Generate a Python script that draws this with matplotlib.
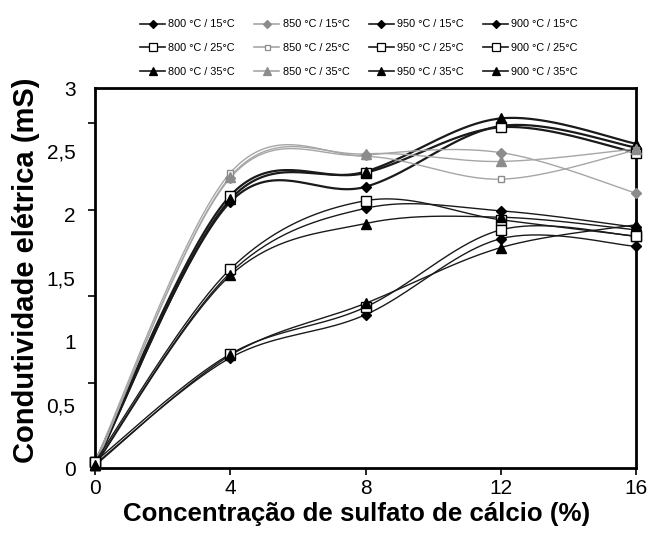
import matplotlib.pyplot as plt
import numpy as np
from matplotlib.lines import Line2D

plt.rcParams['font.family'] = ['Liberation Sans', 'DejaVu Sans']

# Data
conc = [0, 4, 8, 12, 16]
temps = ["800", "850", "950", "900"]
humid = ["15", "25", "35"]

values = {
    ("800", "15"): [0.03, 2.10, 2.22, 2.70, 2.53],
    ("800", "25"): [0.05, 2.15, 2.33, 2.69, 2.49],
    ("800", "35"): [0.02, 2.12, 2.34, 2.76, 2.56],
    ("850", "15"): [0.03, 2.29, 2.47, 2.49, 2.17],
    ("850", "25"): [0.05, 2.33, 2.46, 2.28, 2.51],
    ("850", "35"): [0.02, 2.30, 2.48, 2.42, 2.52],
    ("950", "15"): [0.03, 1.54, 2.05, 2.03, 1.90],
    ("950", "25"): [0.05, 1.57, 2.11, 1.96, 1.83],
    ("950", "35"): [0.02, 1.52, 1.93, 1.98, 1.88],
    ("900", "15"): [0.03, 0.87, 1.21, 1.81, 1.75],
    ("900", "25"): [0.05, 0.90, 1.27, 1.88, 1.83],
    ("900", "35"): [0.02, 0.89, 1.30, 1.74, 1.92],
}

y_ticks = [0, 0.5, 1, 1.5, 2, 2.5, 3]
y_tick_labels = ["0", "0,5", "1", "1,5", "2", "2,5", "3"]
y_marks = [0.67, 1.36, 2.04, 2.72]
x_ticks = [0, 4, 8, 12, 16]


def smooth(x, y, n=40):
    # Excel-like smoothed line (Catmull-Rom as cubic Bezier)
    pts = np.column_stack([x, y]).astype(float)
    p = np.vstack([pts[0], pts, pts[-1]])
    t = np.linspace(0, 1, n)[:, None]
    out = []
    for i in range(1, len(p) - 2):
        p0, p1, p2, p3 = p[i - 1], p[i], p[i + 1], p[i + 2]
        b1 = p1 + (p2 - p0) / 6
        b2 = p2 - (p3 - p1) / 6
        seg = (1 - t) ** 3 * p1 + 3 * (1 - t) ** 2 * t * b1 + 3 * (1 - t) * t ** 2 * b2 + t ** 3 * p2
        out.append(seg if i == 1 else seg[1:])
    c = np.vstack(out)
    return c[:, 0], c[:, 1]


markers = {"15": "D", "25": "s", "35": "^"}

fig = plt.figure(figsize=(6.49, 5.34), dpi=100)
ax = fig.add_axes([95 / 649, 66 / 534, 541 / 649, 380 / 534])

handles = []
labels = []
for temp in temps:
    gray = temp == "850"
    lcol = "#a6a6a6" if gray else "#1a1a1a"
    mcol = "#8c8c8c" if gray else "black"
    lw = 1.6 if temp == "800" else 1.0
    for h in humid:
        y = values[(temp, h)]
        sx, sy = smooth(conc, y)
        ax.plot(sx, sy, color=lcol, lw=lw, zorder=2, clip_on=False)
        m = markers[h]
        if m == "s":
            face = "white"
            ms = 4.5 if gray else 6.5
        else:
            face = mcol
            ms = 5.5 if m == "D" else 7
        ax.plot(conc, y, ls="none", marker=m, ms=ms, mfc=face, mec=mcol,
                mew=1.0, zorder=3, clip_on=False)
        handles.append(Line2D([], [], color=lcol, lw=1.2, marker=m,
                              ms=ms * 0.8, mfc=face, mec=mcol, mew=0.9))
        labels.append(f"{temp} °C / {h}°C")

ax.set_xlim(0, 16)
ax.set_ylim(0, 3)
ax.set_xticks(x_ticks)
ax.set_xticklabels([str(v) for v in x_ticks], fontsize=15)
ax.tick_params(axis="x", direction="out", length=5, width=1.2, pad=3)
ax.set_yticks(y_ticks)
ax.set_yticklabels(y_tick_labels, fontsize=15)
ax.tick_params(axis="y", which="major", length=0, pad=14)
ax.set_yticks(y_marks, minor=True)
ax.tick_params(axis="y", which="minor", direction="out", length=5, width=1.2)

for s in ax.spines.values():
    s.set_linewidth(2)

ax.set_xlabel("Concentração de sulfato de cálcio (%)", fontsize=18.6,
              fontweight="bold")
ax.set_ylabel("Condutividade elétrica (mS)", fontsize=21,
              fontweight="bold")
ax.xaxis.set_label_coords(0.483, -0.09)
ax.yaxis.set_label_coords(-0.102, 0.52)

fig.legend(handles, labels, ncol=4, loc="center", bbox_to_anchor=(359 / 649, 1 - 48 / 534),
           frameon=False, fontsize=7.8, handlelength=2.3, handletextpad=0.3,
           columnspacing=1.8, labelspacing=1.25)

fig.savefig("out.png", dpi=100)
